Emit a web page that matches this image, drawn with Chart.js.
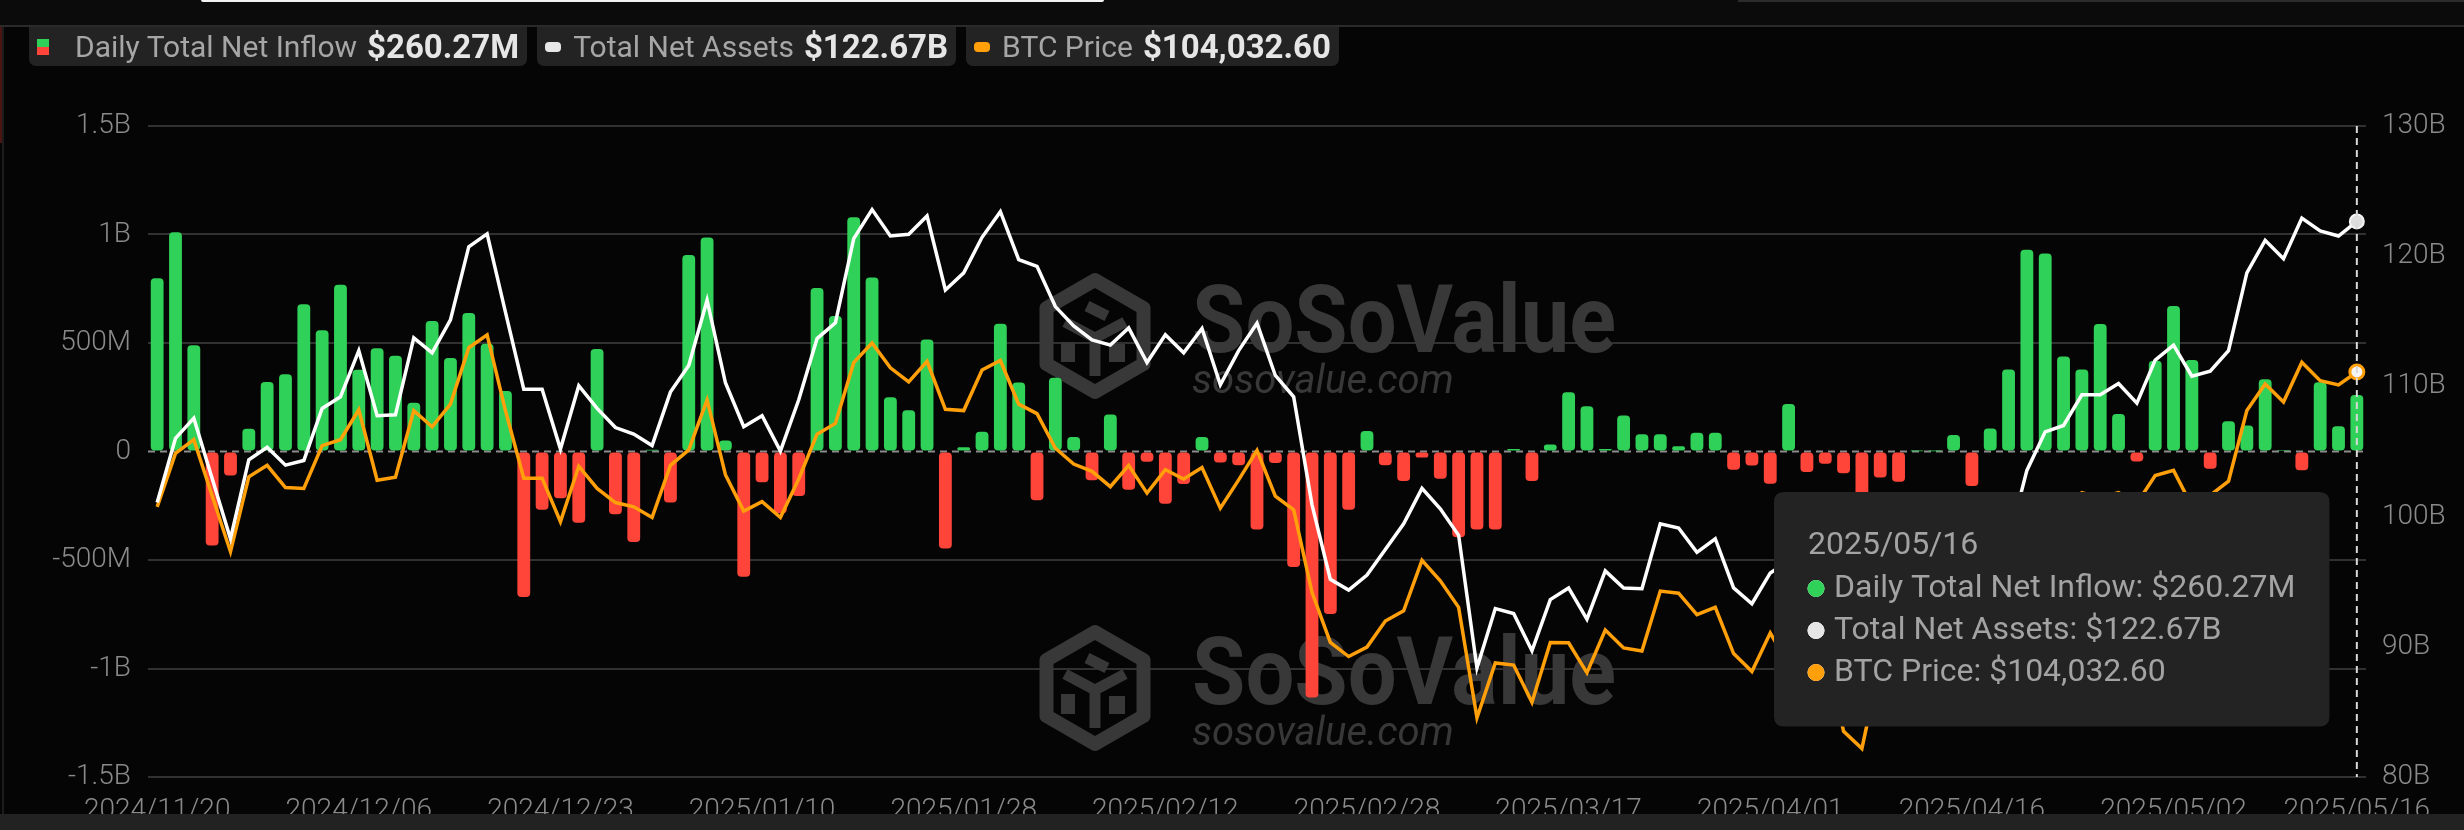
<!DOCTYPE html>
<html>
<head>
<meta charset="utf-8">
<title>Bitcoin Spot ETF - Daily Total Net Inflow</title>
<script src="https://cdn.jsdelivr.net/npm/chart.js@4.4.1/dist/chart.umd.min.js"></script>
<style>
	html, body { margin: 0; padding: 0; }
	body { width: 2464px; height: 830px; position: relative; overflow: hidden; background: #050505; font-family: Roboto, "Noto Sans", sans-serif; }
	canvas { position: absolute; left: 0; top: 0; }
	.topbar { position: absolute; left: 0; top: 0; width: 100%; height: 25px; background: #0b0b0b; border-bottom: 2px solid #2a2a2a; }
	.scroll-a { position: absolute; left: 201px; top: 0; width: 903px; height: 2px; background: #f2f2f2; border-radius: 0 0 2px 2px; }
	.scroll-b { position: absolute; left: 1738px; top: 0; width: 726px; height: 2px; background: #2c2c2c; }
	.edge { position: absolute; left: 2px; top: 27px; width: 2px; height: 787px; background: #1c1c1c; }
	.edge-red { position: absolute; left: 0; top: 27px; width: 2px; height: 116px; background: #4d1512; }
	.bottombar { position: absolute; left: 0; top: 814px; width: 100%; height: 16px; background: #222; }
	#legend { position: absolute; left: 29px; top: 27px; display: flex; gap: 10px; }
	.pill { height: 39px; display: flex; align-items: center; padding: 0 8px; background: #232323; border-radius: 0 0 7px 7px; white-space: nowrap; }
	.pill .name { font-size: 30px; color: #a6a6a6; }
	.pill .value { font-size: 33px; font-weight: 700; color: #e6e6e6; margin-left: 10px; }
	.sw { width: 16px; height: 10px; border-radius: 4px; margin-right: 12px; }
	.sw-split { width: 12px; height: 16px; border-radius: 0; margin-right: 26px; background: linear-gradient(#30d158 50%, #ff453a 50%); }
</style>
</head>
<body>
<canvas id="etf-chart" width="2464" height="830"></canvas>
<div class="topbar"></div>
<div class="scroll-a"></div>
<div class="scroll-b"></div>
<div class="edge"></div>
<div class="edge-red"></div>
<div id="legend">
	<div class="pill"><span class="sw sw-split"></span><span class="name">Daily Total Net Inflow</span><span class="value" id="v-flow"></span></div>
	<div class="pill"><span class="sw" style="background:#e6e6e6"></span><span class="name">Total Net Assets</span><span class="value" id="v-assets"></span></div>
	<div class="pill"><span class="sw" style="background:#ff9f0a"></span><span class="name">BTC Price</span><span class="value" id="v-price"></span></div>
</div>
<div class="bottombar"></div>
<script>
// trading days shown on the x axis
const dates = [
	"2024/11/20", "2024/11/21", "2024/11/22", "2024/11/25", "2024/11/26", "2024/11/27", "2024/11/29", "2024/12/02", "2024/12/03", "2024/12/04",
	"2024/12/05", "2024/12/06", "2024/12/09", "2024/12/10", "2024/12/11", "2024/12/12", "2024/12/13", "2024/12/16", "2024/12/17", "2024/12/18",
	"2024/12/19", "2024/12/20", "2024/12/23", "2024/12/24", "2024/12/26", "2024/12/27", "2024/12/30", "2024/12/31", "2025/01/02", "2025/01/03",
	"2025/01/06", "2025/01/07", "2025/01/08", "2025/01/10", "2025/01/13", "2025/01/14", "2025/01/15", "2025/01/16", "2025/01/17", "2025/01/21",
	"2025/01/22", "2025/01/23", "2025/01/24", "2025/01/27", "2025/01/28", "2025/01/29", "2025/01/30", "2025/01/31", "2025/02/03", "2025/02/04",
	"2025/02/05", "2025/02/06", "2025/02/07", "2025/02/10", "2025/02/11", "2025/02/12", "2025/02/13", "2025/02/14", "2025/02/18", "2025/02/19",
	"2025/02/20", "2025/02/21", "2025/02/24", "2025/02/25", "2025/02/26", "2025/02/27", "2025/02/28", "2025/03/03", "2025/03/04", "2025/03/05",
	"2025/03/06", "2025/03/07", "2025/03/10", "2025/03/11", "2025/03/12", "2025/03/13", "2025/03/14", "2025/03/17", "2025/03/18", "2025/03/19",
	"2025/03/20", "2025/03/21", "2025/03/24", "2025/03/25", "2025/03/26", "2025/03/27", "2025/03/28", "2025/03/31", "2025/04/01", "2025/04/02",
	"2025/04/03", "2025/04/04", "2025/04/07", "2025/04/08", "2025/04/09", "2025/04/10", "2025/04/11", "2025/04/14", "2025/04/15", "2025/04/16",
	"2025/04/17", "2025/04/21", "2025/04/22", "2025/04/23", "2025/04/24", "2025/04/25", "2025/04/28", "2025/04/29", "2025/04/30", "2025/05/01",
	"2025/05/02", "2025/05/05", "2025/05/06", "2025/05/07", "2025/05/08", "2025/05/09", "2025/05/12", "2025/05/13", "2025/05/14", "2025/05/15",
	"2025/05/16"
];

// daily total net inflow, millions of USD
const dailyNetInflow = [
	798, 1010, 490, -433, -111, 105, 320, 356, 678, 559,
	769, 377, 476, 441, 225, 601, 431, 638, 496, 279,
	-670, -269, -215, -328, 472, -289, -417, 8, -235, 905,
	986, 51, -577, -142, -285, -205, 753, 624, 1079, 802,
	250, 190, 516, -447, 20, 91, 589, 318, -225, 340,
	67, -132, 170, -176, -47, -241, -150, 67, -51, -63,
	-360, -53, -532, -1134, -749, -269, 95, -63, -136, -28,
	-126, -395, -360, -360, 12, -136, 32, 273, 209, 12,
	166, 80, 80, 24, 86, 86, -84, -64, -149, 219,
	-94, -56, -100, -326, -120, -139, 1.5, 1.5, 76, -159,
	106, 378, 930, 912, 438, 378, 588, 173, -46, 418,
	671, 422, -80, 139, 120, 333, 2, -86, 319, 116,
	260.27
];

// total net assets, billions of USD
const totalNetAssets = [
	101.09, 106.01, 107.56, 102.93, 98.30, 104.37, 105.32, 103.95, 104.31, 108.31,
	109.20, 112.75, 107.75, 107.82, 113.73, 112.58, 115.11, 120.73, 121.71, 115.70,
	109.79, 109.79, 105.19, 110.05, 108.31, 106.84, 106.34, 105.46, 109.56, 111.60,
	116.62, 110.28, 106.90, 107.75, 105.03, 108.97, 113.67, 114.88, 121.35, 123.58,
	121.55, 121.68, 123.09, 117.41, 118.72, 121.45, 123.42, 119.74, 119.22, 116.13,
	114.65, 113.57, 113.17, 114.49, 111.83, 113.96, 112.58, 114.45, 110.12, 112.75,
	114.85, 110.84, 109.20, 100.92, 95.18, 94.36, 95.51, 97.48, 99.45, 102.17,
	100.60, 98.56, 88.38, 92.94, 92.55, 89.69, 93.63, 94.52, 92.12, 95.83,
	94.52, 94.46, 99.45, 99.12, 97.25, 98.30, 94.52, 93.31, 95.67, 96.60,
	93.50, 92.80, 89.90, 87.50, 94.00, 90.80, 93.30, 94.00, 94.10, 94.00,
	94.60, 98.10, 103.55, 106.51, 107.00, 109.36, 109.36, 110.22, 108.71, 112.02,
	113.17, 110.78, 111.17, 112.75, 118.72, 121.22, 119.81, 122.93, 121.94, 121.55,
	122.67
];

// BTC price, USD
const btcPrice = [
	94100, 98038, 99046, 94919, 90792, 96305, 97156, 95518, 95455, 98605,
	99046, 101252, 96053, 96274, 101189, 99991, 101662, 105820, 106766, 101189,
	96211, 96211, 92997, 97093, 95455, 94415, 94100, 93312, 97156, 98290,
	101976, 96463, 93785, 94478, 93312, 96148, 99453, 100243, 104717, 106166,
	104339, 103300, 104812, 101283, 101189, 104182, 104875, 101662, 100968, 98416,
	97251, 96716, 95582, 97156, 95109, 96841, 96148, 96998, 94005, 96085,
	98259, 94888, 93879, 87799, 84112, 83073, 83766, 85688, 86444, 90162,
	88650, 86696, 78568, 82599, 82442, 79701, 84112, 84081, 81875, 85025,
	83703, 83482, 87893, 87736, 86161, 86696, 83293, 81970, 84806, 82500,
	83100, 83800, 77560, 76300, 82600, 79600, 83400, 84500, 83700, 84000,
	84900, 87500, 93400, 93700, 93900, 95150, 94800, 95150, 94350, 96400,
	96780, 94160, 94950, 95990, 101189, 103142, 101819, 104749, 103394, 103081,
	104032.60
];

const labelEvery = 11;

const GREEN = "#30d158";
const RED = "#ff453a";
const WHITE = "#ffffff";
const ORANGE = "#ff9f0a";
const TICK_GREY = "#8a8a8a";
const GRID = "#313131";

const fmtFlow = (v) => "$" + v.toFixed(2) + "M";
const fmtAssets = (v) => "$" + v.toFixed(2) + "B";
const fmtPrice = (v) =>
	"$" + v.toLocaleString("en-US", { minimumFractionDigits: 2, maximumFractionDigits: 2 });

const last = dates.length - 1;
document.getElementById("v-flow").textContent = fmtFlow(dailyNetInflow[last]);
document.getElementById("v-assets").textContent = fmtAssets(totalNetAssets[last]);
document.getElementById("v-price").textContent = fmtPrice(btcPrice[last]);

// SoSoValue watermark
const drawWatermark = (ctx, cx, cy) => {
	ctx.save();
	ctx.strokeStyle = "#383838";
	ctx.fillStyle = "#383838";
	ctx.lineWidth = 14;
	ctx.lineJoin = "round";
	const r = 56;
	const pts = [];
	for (let k = 0; k < 6; k++) {
		const a = (Math.PI / 3) * k - Math.PI / 2;
		pts.push([cx + r * Math.cos(a), cy + r * Math.sin(a)]);
	}
	ctx.beginPath();
	pts.forEach((p, k) => (k ? ctx.lineTo(p[0], p[1]) : ctx.moveTo(p[0], p[1])));
	ctx.closePath();
	ctx.stroke();
	ctx.lineWidth = 11;
	ctx.beginPath();
	ctx.moveTo(cx - 30, cy - 14);
	ctx.lineTo(cx, cy + 2);
	ctx.lineTo(cx + 30, cy - 14);
	ctx.moveTo(cx, cy + 2);
	ctx.lineTo(cx, cy + 40);
	ctx.moveTo(cx - 8, cy - 30);
	ctx.lineTo(cx + 12, cy - 20);
	ctx.stroke();
	ctx.fillRect(cx + 14, cy + 8, 16, 18);
	ctx.fillRect(cx - 34, cy + 6, 14, 20);

	ctx.textBaseline = "alphabetic";
	ctx.font = "bold 94px Roboto";
	ctx.fillText("SoSoValue", cx + 97, cy + 16, 424);
	ctx.font = "italic 40px Roboto";
	ctx.fillText("sosovalue.com", cx + 97, cy + 57, 276);
	ctx.restore();
};

const overlay = {
	id: "overlay",
	beforeDatasetsDraw(chart) {
		const { ctx, chartArea: a, scales } = chart;
		drawWatermark(ctx, a.left + 947, a.top + 210);
		drawWatermark(ctx, a.left + 947, a.top + 562);
		const y0 = scales.yFlow.getPixelForValue(0);
		ctx.save();
		ctx.strokeStyle = "#8c8c8c";
		ctx.lineWidth = 2;
		ctx.setLineDash([7, 5]);
		ctx.beginPath();
		ctx.moveTo(a.left, y0);
		ctx.lineTo(a.right, y0);
		ctx.stroke();
		ctx.restore();
	},
	afterDatasetsDraw(chart) {
		const active = chart.tooltip.getActiveElements();
		if (!active.length) {
			return;
		}
		const { ctx, chartArea: a } = chart;
		const x = active[0].element.x;
		ctx.save();
		ctx.strokeStyle = "#d8d8d8";
		ctx.lineWidth = 2;
		ctx.setLineDash([7, 5]);
		ctx.beginPath();
		ctx.moveTo(x, a.top);
		ctx.lineTo(x, a.bottom);
		ctx.stroke();
		ctx.restore();
	},
};

// tooltip box sits at a fixed place inside the plot, as in the screenshot
Chart.Tooltip.positioners.fixedBox = function () {
	const a = this.chart.chartArea;
	return { x: a.right - 592 + 10, y: a.top + 366 };
};

Chart.defaults.font.family = "Roboto";
Chart.defaults.color = TICK_GREY;

const barColor = (c) => (c.raw >= 0 ? GREEN : RED);
const dotColors = [null, "#e6e6e6", ORANGE];

const ctx = document.getElementById("etf-chart");
const chart = new Chart(ctx, {
	type: "bar",
	data: {
		labels: dates,
		datasets: [
			{
				type: "bar",
				label: "Daily Total Net Inflow",
				data: dailyNetInflow,
				yAxisID: "yFlow",
				order: 3,
				backgroundColor: barColor,
				hoverBackgroundColor: barColor,
				borderWidth: 0,
				borderRadius: 4,
				borderSkipped: false,
				barPercentage: 0.7,
				categoryPercentage: 1,
			},
			{
				type: "line",
				label: "Total Net Assets",
				data: totalNetAssets,
				yAxisID: "yAssets",
				order: 1,
				borderColor: WHITE,
				borderWidth: 3.5,
				tension: 0,
				pointRadius: 0,
				pointHoverRadius: 7,
				pointHoverBorderWidth: 2,
				pointHoverBackgroundColor: "#dddddd",
				pointHoverBorderColor: "#f4f4f4",
			},
			{
				type: "line",
				label: "BTC Price",
				data: btcPrice,
				yAxisID: "yBtc",
				order: 2,
				borderColor: ORANGE,
				borderWidth: 3.5,
				tension: 0,
				pointRadius: 0,
				pointHoverRadius: 7,
				pointHoverBorderWidth: 3,
				pointHoverBackgroundColor: "#f4f4f4",
				pointHoverBorderColor: ORANGE,
			},
		],
	},
	options: {
		responsive: false,
		animation: false,
		events: [],
		layout: { padding: { top: 126, bottom: 0, left: 0, right: 0 } },
		scales: {
			x: {
				offset: true,
				grid: { display: false },
				border: { display: false },
				afterFit: (scale) => {
					scale.height = 53;
				},
				ticks: {
					autoSkip: false,
					maxRotation: 0,
					minRotation: 0,
					padding: 9,
					color: TICK_GREY,
					font: { size: 28, weight: "300" },
					callback: (val, i) => (i % labelEvery === 0 || i === last ? dates[i] : ""),
				},
			},
			yFlow: {
				position: "left",
				min: -1500,
				max: 1500,
				afterFit: (scale) => {
					scale.width = 148;
				},
				border: { display: false },
				grid: {
					drawTicks: false,
					lineWidth: 2,
					color: (c) => (c.tick && c.tick.value === 0 ? "rgba(0,0,0,0)" : GRID),
				},
				ticks: {
					stepSize: 500,
					padding: 17,
					color: TICK_GREY,
					font: { size: 28, weight: "300" },
					callback: (v) => (v === 0 ? "0" : Math.abs(v) >= 1000 ? v / 1000 + "B" : v + "M"),
				},
			},
			yAssets: {
				position: "right",
				min: 80,
				max: 130,
				afterFit: (scale) => {
					scale.width = 98;
				},
				border: { display: false },
				grid: { drawOnChartArea: false, drawTicks: false },
				ticks: {
					stepSize: 10,
					padding: 16,
					color: TICK_GREY,
					font: { size: 28, weight: "300" },
					callback: (v) => v + "B",
				},
			},
			yBtc: {
				display: false,
				min: 74200,
				max: 122150,
			},
		},
		plugins: {
			legend: { display: false },
			tooltip: {
				enabled: true,
				animation: false,
				position: "fixedBox",
				xAlign: "left",
				yAlign: "top",
				caretSize: 0,
				caretPadding: 0,
				backgroundColor: "#232323",
				cornerRadius: 10,
				padding: { top: 38, bottom: 38, left: 34, right: 34 },
				titleFont: { size: 32, weight: "400", lineHeight: 1 },
				titleColor: "#a3a3a3",
				titleMarginBottom: 10.5,
				bodyFont: { size: 32, weight: "400", lineHeight: 1 },
				bodyColor: "#a3a3a3",
				bodySpacing: 10,
				displayColors: true,
				usePointStyle: true,
				boxWidth: 16,
				boxHeight: 16,
				boxPadding: 8,
				callbacks: {
					label: (item) => {
						const v = item.raw;
						if (item.datasetIndex === 0) return "Daily Total Net Inflow: " + fmtFlow(v);
						if (item.datasetIndex === 1) return "Total Net Assets: " + fmtAssets(v);
						return "BTC Price: " + fmtPrice(v);
					},
					labelColor: (item) => {
						const c = item.datasetIndex === 0 ? (item.raw >= 0 ? GREEN : RED) : dotColors[item.datasetIndex];
						return { borderColor: c, backgroundColor: c };
					},
					labelPointStyle: () => ({ pointStyle: "circle", rotation: 0 }),
				},
			},
		},
	},
	plugins: [overlay],
});

const active = [0, 1, 2].map((datasetIndex) => ({ datasetIndex, index: last }));
chart.setActiveElements(active);
chart.tooltip.setActiveElements(active, { x: 0, y: 0 });
chart.update();
</script>
</body>
</html>
